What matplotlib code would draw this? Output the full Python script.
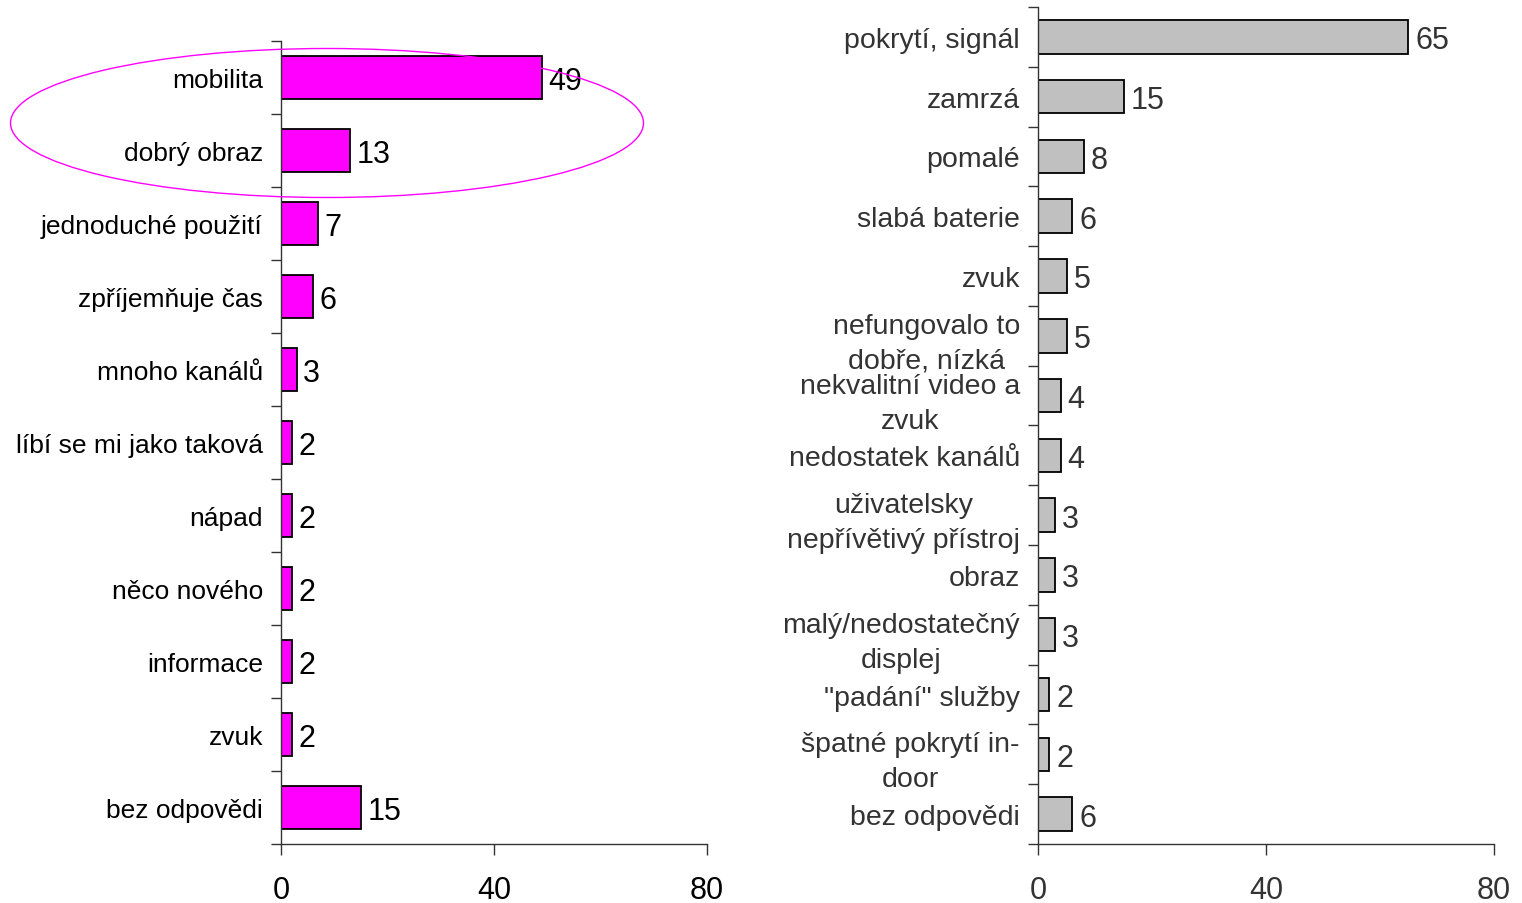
import matplotlib.pyplot as plt
from matplotlib.patches import Ellipse

plt.rcParams['font.family'] = ['Liberation Sans', 'DejaVu Sans']

# Co se líbí
plus_labels = ['mobilita', 'dobrý obraz', 'jednoduché použití', 'zpříjemňuje čas',
               'mnoho kanálů', 'líbí se mi jako taková', 'nápad', 'něco nového',
               'informace', 'zvuk', 'bez odpovědi']
plus_values = [49, 13, 7, 6, 3, 2, 2, 2, 2, 2, 15]

# Co se nelíbí
minus_labels = ['pokrytí, signál', 'zamrzá', 'pomalé', 'slabá baterie', 'zvuk',
                'nefungovalo to\ndobře, nízká', 'nekvalitní video a\nzvuk',
                'nedostatek kanálů', 'uživatelsky\nnepřívětivý přístroj', 'obraz',
                'malý/nedostatečný\ndisplej', '"padání" služby',
                'špatné pokrytí in-\ndoor', 'bez odpovědi']
minus_values = [65, 15, 8, 6, 5, 5, 4, 4, 3, 3, 3, 2, 2, 6]

xticks = [0, 40, 80]
NUM_FS = 22

fig = plt.figure(figsize=(15.22, 9.04), dpi=100)
ax1 = fig.add_axes([0.1846, 0.0653, 0.2799, 0.8883])
ax2 = fig.add_axes([0.6820, 0.0653, 0.2996, 0.9259])


def draw_panel(ax, labels, values, color, text_color, height, label_fs):
    n = len(labels)
    pos = list(range(n))
    ax.barh(pos, values, height=height, color=color, edgecolor='black', linewidth=1.3)
    for p, v in zip(pos, values):
        ax.text(v + 1.2, p, str(v), va='center_baseline', ha='left',
                fontsize=NUM_FS, color=text_color)
    ax.set_xlim(0, 80)
    ax.set_ylim(n - 0.5, -0.5)
    ax.set_yticks(pos)
    ax.set_yticklabels(labels, fontsize=label_fs, color=text_color,
                       multialignment='center', linespacing=1.45)
    ax.set_yticks([i - 0.5 for i in range(n + 1)], minor=True)
    ax.tick_params(axis='y', which='major', length=0, pad=13)
    ax.tick_params(axis='y', which='minor', length=7, direction='out', width=1, color='#333333')
    ax.set_xticks(xticks)
    ax.set_xticklabels([str(t) for t in xticks], fontsize=NUM_FS, color=text_color)
    ax.tick_params(axis='x', length=8, direction='out', pad=14, width=1, color='#333333')
    for s in ['top', 'right']:
        ax.spines[s].set_visible(False)
    for s in ['left', 'bottom']:
        ax.spines[s].set_color('#333333')
        ax.spines[s].set_linewidth(1)


draw_panel(ax1, plus_labels, plus_values, '#FF00FF', 'black', 0.58, 19)
draw_panel(ax2, minus_labels, minus_values, '#C0C0C0', '#333333', 0.56, 20.5)

# zvýraznění dvou hlavních důvodů
ring = Ellipse((327 / 1522, 1 - 124 / 904), 633 / 1522, 149 / 904,
               transform=fig.transFigure, fill=False, edgecolor='#FF00FF', linewidth=1)
fig.patches.append(ring)

fig.savefig('out.png', dpi=100)
